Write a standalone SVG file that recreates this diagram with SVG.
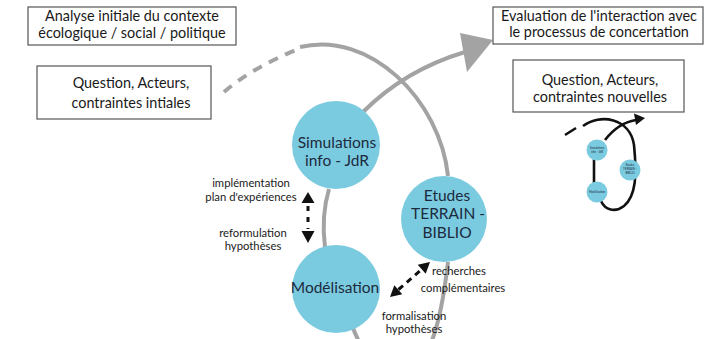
<svg xmlns="http://www.w3.org/2000/svg" width="709" height="339" viewBox="0 0 709 339">
  <style>
    .box { fill: #ffffff; stroke: #555555; stroke-width: 1.2; }
    .btxt { font-family: Lato, "Open Sans", sans-serif; font-size: 14.4px; fill: #1a1a1a; text-anchor: middle; }
    .node { fill: #7bcbe0; }
    .ntxt { font-family: Lato, "Open Sans", sans-serif; font-size: 15.5px; fill: #1b2a3d; text-anchor: middle; }
    .lbl { font-family: Lato, "Open Sans", sans-serif; font-size: 11.3px; fill: #1a1a1a; text-anchor: middle; }
    .flow { fill: none; stroke: #a3a3a3; stroke-width: 4; stroke-linecap: butt; }
    .link { fill: none; stroke: #111111; stroke-width: 3; }
    .head { fill: #111111; }
    .mini { fill: none; stroke: #111111; stroke-width: 2.6; }
    .mtxt { font-family: Lato, "Open Sans", sans-serif; font-size: 2.9px; fill: #1b2a3d; text-anchor: middle; }
  </style>

  <rect width="709" height="339" fill="#ffffff"/>

  <!-- cycle lines and arrows -->
  <g id="connectors">
    <!-- dashed lead-in and big arc over the top -->
    <path class="flow" d="M224,92 Q252,68 296,50" stroke-dasharray="10 8"/>
    <path class="flow" d="M300,47 C370,30 440,100 448,176"/>
    <!-- lower loop from Etudes round to Modélisation -->
    <path class="flow" d="M448,262 C441,322 430,370 400,372 C378,373 362,352 353,328"/>
    <!-- left side between Modélisation and Simulations -->
    <path class="flow" d="M329,189 Q321,216 325,247" stroke-width="3.5"/>
    <!-- outgoing arrow towards the evaluation -->
    <path class="flow" d="M363,112 Q405,70 465,52"/>
    <polygon fill="#a3a3a3" points="460,33 493,40 467,72"/>

    <!-- implementation / reformulation double arrow -->
    <polygon class="head" points="308,192 301.5,203 314.5,203"/>
    <line class="link" x1="308" y1="206" x2="308" y2="229" stroke-dasharray="5 6"/>
    <polygon class="head" points="301.5,231 314.5,231 308,243"/>

    <!-- recherches / formalisation double arrow -->
    <polygon class="head" points="430,262 425.7,273.8 417.7,264.8"/>
    <line class="link" x1="398.5" y1="289.5" x2="421.5" y2="269.5" stroke-dasharray="6 5"/>
    <polygon class="head" points="390,297 402.3,294.2 394.3,285.2"/>
  </g>

  <g id="box-analyse">
    <rect class="box" x="28" y="7" width="208" height="38"/>
    <text class="btxt" x="132" y="21">Analyse initiale du contexte</text>
    <text class="btxt" x="132" y="38">écologique / social / politique</text>
  </g>

  <g id="box-question-initiale">
    <rect class="box" x="37" y="66" width="174" height="53"/>
    <text class="btxt" x="131" y="88">Question, Acteurs,</text>
    <text class="btxt" x="131" y="108">contraintes intiales</text>
  </g>

  <g id="box-evaluation">
    <rect class="box" x="493" y="7" width="210" height="37"/>
    <text class="btxt" x="599" y="21">Evaluation de l'interaction avec</text>
    <text class="btxt" x="599" y="37">le processus de concertation</text>
  </g>

  <g id="box-question-nouvelle">
    <rect class="box" x="513" y="60" width="171" height="52"/>
    <text class="btxt" x="600" y="85">Question, Acteurs,</text>
    <text class="btxt" x="600" y="102">contraintes nouvelles</text>
  </g>

  <g id="node-simulations">
    <circle class="node" cx="336" cy="145" r="44"/>
    <text class="ntxt" x="337" y="148">Simulations</text>
    <text class="ntxt" x="337" y="166">info - JdR</text>
  </g>

  <g id="node-etudes">
    <circle class="node" cx="444" cy="219" r="43"/>
    <text class="ntxt" x="447" y="201">Etudes</text>
    <text class="ntxt" x="448" y="219">TERRAIN -</text>
    <text class="ntxt" x="447" y="238">BIBLIO</text>
  </g>

  <g id="node-modelisation">
    <circle class="node" cx="336" cy="289" r="44"/>
    <text class="ntxt" x="335" y="293">Modélisation</text>
  </g>

  <g id="labels">
    <text class="lbl" x="251" y="187">implémentation</text>
    <text class="lbl" x="251" y="201">plan d'expériences</text>
    <text class="lbl" x="253" y="237">reformulation</text>
    <text class="lbl" x="253" y="250">hypothèses</text>
    <text class="lbl" x="459" y="275">recherches</text>
    <text class="lbl" x="463" y="292">complémentaires</text>
    <text class="lbl" x="414" y="320">formalisation</text>
    <text class="lbl" x="414" y="333">hypothèses</text>
  </g>

  <!-- small overview of the cycle -->
  <g id="mini-cycle">
    <line class="mini" x1="565" y1="135" x2="576" y2="128"/>
    <path class="mini" d="M583,126 C600,113 630,118 634,145 C637,175 636,196 624,206 C615,213 605,210 601,201"/>
    <line class="mini" x1="594" y1="158" x2="594" y2="184"/>
    <path class="mini" d="M605,140 Q618,123 636,120"/>
    <polygon class="head" points="645,118 634,113.5 636,125"/>
    <circle class="node" cx="597" cy="150" r="10.5"/>
    <circle class="node" cx="630" cy="170" r="10.5"/>
    <circle class="node" cx="597" cy="192" r="10.5"/>
    <text class="mtxt" x="597" y="149">Simulations</text>
    <text class="mtxt" x="597" y="153">info - JdR</text>
    <text class="mtxt" x="630" y="166">Etudes</text>
    <text class="mtxt" x="630" y="170">TERRAIN -</text>
    <text class="mtxt" x="630" y="174">BIBLIO</text>
    <text class="mtxt" x="597" y="193">Modélisation</text>
  </g>
</svg>
